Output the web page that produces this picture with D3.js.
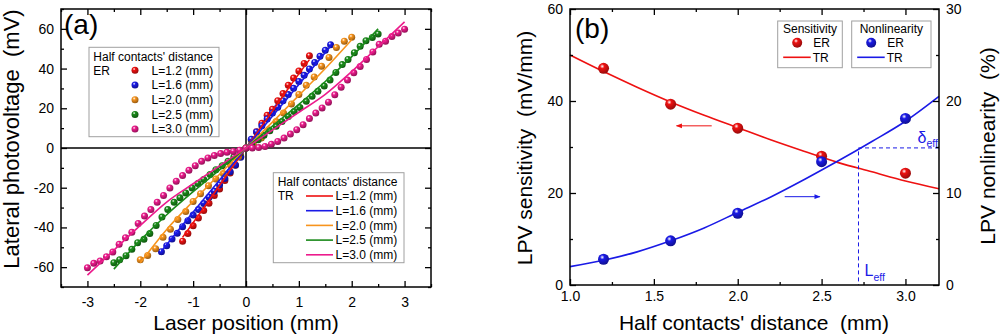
<!DOCTYPE html>
<html><head><meta charset="utf-8">
<script src="https://cdn.jsdelivr.net/npm/d3@7"></script>
<style>
body{margin:0;background:#fff}
text{font-family:Arial,"Liberation Sans",sans-serif;fill:#000;white-space:pre}
</style>
</head><body>
<svg id="chart" width="1000" height="336"></svg>
<script>
// ---- panel (a) data : laser position (mm) vs lateral photovoltage (mV)
var seriesLabels = ["L=1.2 (mm)", "L=1.6 (mm)", "L=2.0 (mm)", "L=2.5 (mm)", "L=3.0 (mm)"];

var erX12 = [-1.2,-1.1,-1.0,-0.9,-0.8,-0.7,-0.6,-0.5,-0.4,-0.3,-0.2,-0.1,0,0.1,0.2,0.3,0.4,0.5,0.6,0.7,0.8,0.9,1.0,1.1,1.2];
var erY12 = [-46.9,-43.0,-39.1,-35.2,-31.5,-27.8,-23.9,-20.6,-16.4,-12.6,-8.7,-4.2,0,4.0,8.2,12.5,16.5,19.5,23.8,27.4,31.6,35.2,38.8,42.6,46.4];

var erX16 = [-1.6,-1.5,-1.4,-1.3,-1.2,-1.1,-1.0,-0.9,-0.8,-0.7,-0.6,-0.5,-0.4,-0.3,-0.2,-0.1,0,0.1,0.2,0.3,0.4,0.5,0.6,0.7,0.8,0.9,1.0,1.1,1.2,1.3,1.4,1.5,1.6];
var erY16 = [-52.2,-49.2,-45.8,-42.9,-39.6,-36.6,-33.8,-31.0,-27.9,-24.8,-21.8,-18.6,-15.4,-12.0,-8.5,-4.6,0,4.4,8.1,11.2,14.6,17.6,20.5,23.8,26.9,30.1,33.5,36.6,39.8,43.1,46.2,49.2,52.0];

var erX20 = [-2.0,-1.86,-1.71,-1.57,-1.43,-1.29,-1.14,-1.0,-0.86,-0.71,-0.57,-0.43,-0.29,-0.14,0,0.14,0.29,0.43,0.57,0.71,0.86,1.0,1.14,1.29,1.43,1.57,1.71,1.86,2.0];
var erY20 = [-56.3,-54.1,-50.7,-45.0,-40.9,-36.0,-32.0,-26.9,-23.0,-19.0,-15.6,-12.8,-8.6,-4.4,0,1.8,5.0,9.2,13.4,17.6,22.2,27.0,31.6,35.8,41.2,45.6,50.6,53.8,55.8];

var erX25 = [-2.5,-2.39,-2.27,-2.16,-2.05,-1.93,-1.82,-1.7,-1.59,-1.48,-1.36,-1.25,-1.14,-1.02,-0.91,-0.8,-0.68,-0.57,-0.45,-0.34,-0.23,-0.11,0,0.11,0.23,0.34,0.45,0.57,0.68,0.8,0.91,1.02,1.14,1.25,1.36,1.48,1.59,1.7,1.82,1.93,2.05,2.16,2.27,2.39,2.5];
var erY25 = [-57.8,-56.3,-54.2,-51.0,-47.7,-46.0,-43.0,-39.0,-34.8,-31.0,-27.3,-25.1,-22.6,-20.1,-17.9,-15.9,-13.4,-10.9,-8.9,-6.7,-4.5,-2.5,0,2.0,4.2,6.4,8.7,10.9,13.4,15.9,18.4,20.4,23.5,26.0,28.6,31.2,34.2,38.0,42.0,44.6,48.0,51.2,54.0,55.7,57.4];

var erX30 = [-3.0,-2.88,-2.76,-2.64,-2.52,-2.4,-2.28,-2.16,-2.04,-1.92,-1.8,-1.68,-1.56,-1.44,-1.32,-1.2,-1.08,-0.96,-0.84,-0.72,-0.6,-0.48,-0.36,-0.24,-0.12,0,0.12,0.24,0.36,0.48,0.6,0.72,0.84,0.96,1.08,1.2,1.32,1.44,1.56,1.68,1.8,1.92,2.04,2.16,2.28,2.4,2.52,2.64,2.76,2.88,3.0];
var erY30 = [-60.3,-58.1,-56.9,-54.8,-52.4,-48.5,-45.2,-42.4,-38.0,-34.3,-31.0,-27.3,-23.9,-20.1,-16.7,-13.9,-11.2,-8.9,-6.7,-5.0,-3.8,-2.8,-2.2,-1.7,-1.1,0,0.0,0.2,0.8,1.9,3.3,5.0,7.0,9.2,11.7,14.8,17.6,20.2,23.1,26.8,30.6,34.2,37.9,41.0,44.6,48.4,52.2,53.8,56.2,57.9,59.8];

var trX12 = [-1.2,-0.8,-0.4,0,0.4,0.8,1.2];
var trY12 = [-45.0,-30.2,-15.0,0,14.8,30.0,44.5];
var trX16 = [-1.6,-1.2,-0.8,-0.4,0,0.4,0.8,1.2,1.6];
var trY16 = [-52.0,-38.8,-25.8,-12.9,0,12.8,25.6,38.4,51.2];
var trX20 = [-2.0,-1.5,-1.0,-0.5,0,0.5,1.0,1.5,2.0];
var trY20 = [-57.8,-41.0,-26.8,-13.2,0,13.0,26.5,40.0,54.5];
var trX25 = [-2.5,-2.0,-1.5,-1.0,-0.5,0,0.5,1.0,1.5,2.0,2.5];
var trY25 = [-61.0,-46.5,-33.6,-22.0,-11.0,0,11.0,22.0,33.5,46.0,60.0];
var trX30 = [-3.0,-2.5,-2.0,-1.5,-1.0,-0.5,0,0.5,1.0,1.5,2.0,2.5,3.0];
var trY30 = [-64.0,-51.5,-39.0,-27.2,-18.0,-9.0,0,9.0,18.0,27.0,38.5,51.0,63.5];

var xTicksA = [-3,-2,-1,0,1,2,3];
var yTicksA = [-60,-40,-20,0,20,40,60];

// ---- panel (b) data : half contacts' distance
var lenER = [1.2, 1.6, 2.0, 2.5, 3.0];
var sensER = [47.1, 39.3, 34.1, 28.0, 24.3];
var nonlinER = [2.8, 4.8, 7.8, 13.4, 18.1];
var lenTR = [1.0, 1.2, 1.4, 1.6, 1.8, 2.0, 2.2, 2.4, 2.6, 2.8, 3.0, 3.2];
var sensTR = [50.0, 46.4, 43.0, 39.8, 36.9, 34.2, 31.5, 29.0, 26.6, 24.6, 22.6, 20.9];
var nonlinTR = [2.0, 2.7, 3.6, 4.8, 6.2, 7.9, 9.6, 11.5, 13.5, 15.6, 17.8, 20.5];
var Leff = 2.72, deltaEff = 14.9;

var xTicksB = [1.0, 1.5, 2.0, 2.5, 3.0];
var yTicksBL = [0, 20, 40, 60];
var yTicksBR = [0, 10, 20, 30];

var colors = ["#ee1111", "#1a1ae6", "#f7941d", "#1a8a1a", "#ec1b8c"];

var svg = d3.select("#chart");
var defs = svg.append("defs");

function sphere(id, c) {
  var g = defs.append("radialGradient").attr("id", id)
    .attr("cx", "38%").attr("cy", "32%").attr("r", "68%");
  g.append("stop").attr("offset", "0%").attr("stop-color", "#fff");
  g.append("stop").attr("offset", "30%").attr("stop-color", c);
  g.append("stop").attr("offset", "100%").attr("stop-color", d3.color(c).darker(1.3));
}
colors.forEach(function(c, i){ sphere("sp" + i, c); });

function zip(xs, ys){ return xs.map(function(x, i){ return [x, ys[i]]; }); }

// draws inward major + minor ticks
function axes(g, x, y, o) {
  var b = y.range()[0], t = y.range()[1], l = x.range()[0], r = x.range()[1];
  function put(gen, tr, vals, size, fmt, pad) {
    var a = g.append("g").attr("transform", tr)
      .call(gen.tickValues(vals).tickSize(size).tickPadding(pad || 6).tickFormat(fmt));
    a.select(".domain").remove();
    a.selectAll("line").attr("stroke", "#000").attr("stroke-width", 1.3);
    a.selectAll("text").style("font-size", "14px").attr("fill", "#000");
    return a;
  }
  var none = function(){ return ""; };
  put(d3.axisBottom(x), "translate(0," + b + ")", o.xt, -6, o.xf, o.xpad);
  put(d3.axisBottom(x), "translate(0," + b + ")", o.xm, -3, none);
  put(d3.axisTop(x), "translate(0," + t + ")", o.xt, -6, none);
  put(d3.axisTop(x), "translate(0," + t + ")", o.xm, -3, none);
  put(d3.axisLeft(y), "translate(" + l + ",0)", o.yt, -6, o.yf, 7);
  put(d3.axisLeft(y), "translate(" + l + ",0)", o.ym, -3, none);
  if (!o.noRight) {
    put(d3.axisRight(y), "translate(" + r + ",0)", o.yt, -6, none);
    put(d3.axisRight(y), "translate(" + r + ",0)", o.ym, -3, none);
  }
  g.append("rect").attr("x", l).attr("y", t).attr("width", r - l).attr("height", b - t)
    .attr("fill", "none").attr("stroke", "#000").attr("stroke-width", 1.5);
}

// ================= panel (a)
var xa = d3.scaleLinear().domain([-3.5, 3.5]).range([61, 431]);
var ya = d3.scaleLinear().domain([-70, 70]).range([287, 9]);
var ga = svg.append("g");

ga.append("line").attr("x1", xa(0)).attr("x2", xa(0)).attr("y1", ya(70)).attr("y2", ya(-70))
  .attr("stroke", "#000").attr("stroke-width", 1.5);
ga.append("line").attr("x1", xa(-3.5)).attr("x2", xa(3.5)).attr("y1", ya(0)).attr("y2", ya(0))
  .attr("stroke", "#000").attr("stroke-width", 1.5);

var erA = [zip(erX12, erY12), zip(erX16, erY16), zip(erX20, erY20), zip(erX25, erY25), zip(erX30, erY30)];
var trA = [zip(trX12, trY12), zip(trX16, trY16), zip(trX20, trY20), zip(trX25, trY25), zip(trX30, trY30)];

var lineA = d3.line().x(function(d){ return xa(d[0]); }).y(function(d){ return ya(d[1]); })
  .curve(d3.curveMonotoneX);

erA.forEach(function(s, i){
  ga.append("g").selectAll("circle").data(s).join("circle")
    .attr("cx", function(d){ return xa(d[0]); })
    .attr("cy", function(d){ return ya(d[1]); })
    .attr("r", 3.5).attr("fill", "url(#sp" + i + ")");
});
trA.forEach(function(s, i){
  ga.append("path").datum(s).attr("d", lineA).attr("fill", "none")
    .attr("stroke", colors[i]).attr("stroke-width", 1.6);
});

axes(ga, xa, ya, {
  xt: xTicksA, xm: [-3.5,-2.5,-1.5,-0.5,0.5,1.5,2.5,3.5], xf: function(d){ return String(d); }, xpad: 10,
  yt: yTicksA, ym: [-70,-50,-30,-10,10,30,50,70], yf: function(d){ return String(d); }
});

ga.append("text").attr("x", 64).attr("y", 34).style("font-size", "28px").text("(a)");

ga.append("text").attr("x", xa(0)).attr("y", 330).attr("text-anchor", "middle")
  .style("font-size", "21px").text("Laser position (mm)");
ga.append("text").attr("transform", "translate(19," + 139 + ") rotate(-90)")
  .attr("text-anchor", "middle").style("font-size", "22px").text("Lateral photovoltage  (mV)");

// legend ER
var lgE = ga.append("g").style("font-size", "12px");
lgE.append("rect").attr("x", 89).attr("y", 47.3).attr("width", 130).attr("height", 89.4)
  .attr("fill", "#fff").attr("stroke", "#a0a0a0").attr("stroke-width", 1);
lgE.append("text").attr("x", 93.3).attr("y", 60.5).text("Half contacts' distance");
lgE.append("text").attr("x", 93.3).attr("y", 74.6).text("ER");
seriesLabels.forEach(function(lab, i){
  var cy = 70.3 + i * 14.7;
  lgE.append("circle").attr("cx", 135).attr("cy", cy).attr("r", 3.5).attr("fill", "url(#sp" + i + ")");
  lgE.append("text").attr("x", 151.5).attr("y", cy + 4.3).text(lab);
});

// legend TR
var lgT = ga.append("g").style("font-size", "12px");
lgT.append("rect").attr("x", 273.3).attr("y", 172.7).attr("width", 130.7).attr("height", 90)
  .attr("fill", "#fff").attr("stroke", "#a0a0a0").attr("stroke-width", 1);
lgT.append("text").attr("x", 277.7).attr("y", 185.5).text("Half contacts' distance");
lgT.append("text").attr("x", 277.7).attr("y", 200).text("TR");
seriesLabels.forEach(function(lab, i){
  var cy = 196 + i * 14.7;
  lgT.append("line").attr("x1", 306).attr("x2", 333).attr("y1", cy).attr("y2", cy)
    .attr("stroke", colors[i]).attr("stroke-width", 1.6);
  lgT.append("text").attr("x", 335.5).attr("y", cy + 4.3).text(lab);
});

// ================= panel (b)
var xb = d3.scaleLinear().domain([1.0, 3.2]).range([570, 939]);
var ybL = d3.scaleLinear().domain([0, 60]).range([285, 9]);
var ybR = d3.scaleLinear().domain([0, 30]).range([285, 9]);
var gb = svg.append("g");
var red = "#ee1111", blue = "#1a1ae6";

gb.append("path").datum(zip(lenTR, sensTR)).attr("fill", "none").attr("stroke", red).attr("stroke-width", 1.6)
  .attr("d", d3.line().x(function(d){ return xb(d[0]); }).y(function(d){ return ybL(d[1]); }).curve(d3.curveMonotoneX));
gb.append("path").datum(zip(lenTR, nonlinTR)).attr("fill", "none").attr("stroke", blue).attr("stroke-width", 1.6)
  .attr("d", d3.line().x(function(d){ return xb(d[0]); }).y(function(d){ return ybR(d[1]); }).curve(d3.curveMonotoneX));

// L_eff guide
gb.append("path").attr("fill", "none").attr("stroke", blue).attr("stroke-width", 1)
  .attr("stroke-dasharray", "4,3")
  .attr("d", "M" + xb(3.2) + "," + ybR(deltaEff) + "H" + xb(Leff) + "V" + ybR(0));

gb.append("g").selectAll("circle").data(zip(lenER, sensER)).join("circle")
  .attr("cx", function(d){ return xb(d[0]); }).attr("cy", function(d){ return ybL(d[1]); })
  .attr("r", 5.5).attr("fill", "url(#sp0)");
gb.append("g").selectAll("circle").data(zip(lenER, nonlinER)).join("circle")
  .attr("cx", function(d){ return xb(d[0]); }).attr("cy", function(d){ return ybR(d[1]); })
  .attr("r", 5.5).attr("fill", "url(#sp1)");

axes(gb, xb, ybL, {
  xt: xTicksB, xm: [1.25, 1.75, 2.25, 2.75], xf: d3.format(".1f"), xpad: 6,
  yt: yTicksBL, ym: [10, 30, 50], yf: function(d){ return String(d); }, noRight: true
});
var ar = gb.append("g").attr("transform", "translate(939,0)")
  .call(d3.axisRight(ybR).tickValues(yTicksBR).tickSize(-6).tickPadding(7).tickFormat(function(d){ return String(d); }));
ar.select(".domain").remove();
ar.selectAll("line").attr("stroke", "#000").attr("stroke-width", 1.3);
ar.selectAll("text").style("font-size", "14px").attr("fill", "#000");
var arm = gb.append("g").attr("transform", "translate(939,0)")
  .call(d3.axisRight(ybR).tickValues([5, 15, 25]).tickSize(-3).tickFormat(function(){ return ""; }));
arm.select(".domain").remove();
arm.selectAll("line").attr("stroke", "#000").attr("stroke-width", 1.3);

// arrows
defs.append("marker").attr("id", "hr").attr("viewBox", "0 0 10 10").attr("refX", 9).attr("refY", 5)
  .attr("markerWidth", 7).attr("markerHeight", 6).attr("orient", "auto")
  .append("path").attr("d", "M0,1L10,5L0,9Z").attr("fill", red);
defs.append("marker").attr("id", "hb").attr("viewBox", "0 0 10 10").attr("refX", 9).attr("refY", 5)
  .attr("markerWidth", 7).attr("markerHeight", 6).attr("orient", "auto")
  .append("path").attr("d", "M0,1L10,5L0,9Z").attr("fill", blue);
gb.append("line").attr("x1", xb(1.845)).attr("x2", xb(1.635)).attr("y1", ybL(34.6)).attr("y2", ybL(34.6))
  .attr("stroke", red).attr("stroke-width", 1).attr("marker-end", "url(#hr)");
gb.append("line").attr("x1", xb(2.28)).attr("x2", xb(2.49)).attr("y1", ybR(9.6)).attr("y2", ybR(9.6))
  .attr("stroke", blue).attr("stroke-width", 1).attr("marker-end", "url(#hb)");

var dl = gb.append("text").attr("x", 917.5).attr("y", 143).style("font-size", "16px").style("fill", blue);
dl.append("tspan").text("δ");
dl.append("tspan").attr("dy", 4).style("font-size", "10.5px").text("eff");
var ll = gb.append("text").attr("x", 864.5).attr("y", 276).style("font-size", "16px").style("fill", blue);
ll.append("tspan").text("L");
ll.append("tspan").attr("dy", 5).style("font-size", "10.5px").text("eff");

gb.append("text").attr("x", 575).attr("y", 38).style("font-size", "28px").text("(b)");

gb.append("text").attr("x", 754).attr("y", 330).attr("text-anchor", "middle")
  .style("font-size", "21px").text("Half contacts' distance  (mm)");
gb.append("text").attr("transform", "translate(532,148) rotate(-90)").attr("text-anchor", "middle")
  .style("font-size", "21px").text("LPV sensitivity  (mV/mm)");
gb.append("text").attr("transform", "translate(995,146) rotate(-90)").attr("text-anchor", "middle")
  .style("font-size", "21px").text("LPV nonlinearity  (%)");

// legend (b)
var lb = gb.append("g").style("font-size", "12px");
[[777.7, 64.6, "Sensitivity", red, 0], [851.7, 79.3, "Nonlinearity", blue, 1]].forEach(function(e){
  var x0 = e[0], w = e[1];
  lb.append("rect").attr("x", x0).attr("y", 21).attr("width", w).attr("height", 46.7)
    .attr("fill", "#fff").attr("stroke", "#a0a0a0").attr("stroke-width", 1);
  lb.append("text").attr("x", x0 + w / 2).attr("y", 32.5).attr("text-anchor", "middle").text(e[2]);
  lb.append("circle").attr("cx", x0 + 19.5).attr("cy", 42.7).attr("r", 5).attr("fill", "url(#sp" + e[4] + ")");
  lb.append("text").attr("x", x0 + 35.5).attr("y", 47).text("ER");
  lb.append("line").attr("x1", x0 + 5.5).attr("x2", x0 + 33).attr("y1", 57.3).attr("y2", 57.3)
    .attr("stroke", e[3]).attr("stroke-width", 1.6);
  lb.append("text").attr("x", x0 + 35).attr("y", 61.5).text("TR");
});
</script>
</body></html>
